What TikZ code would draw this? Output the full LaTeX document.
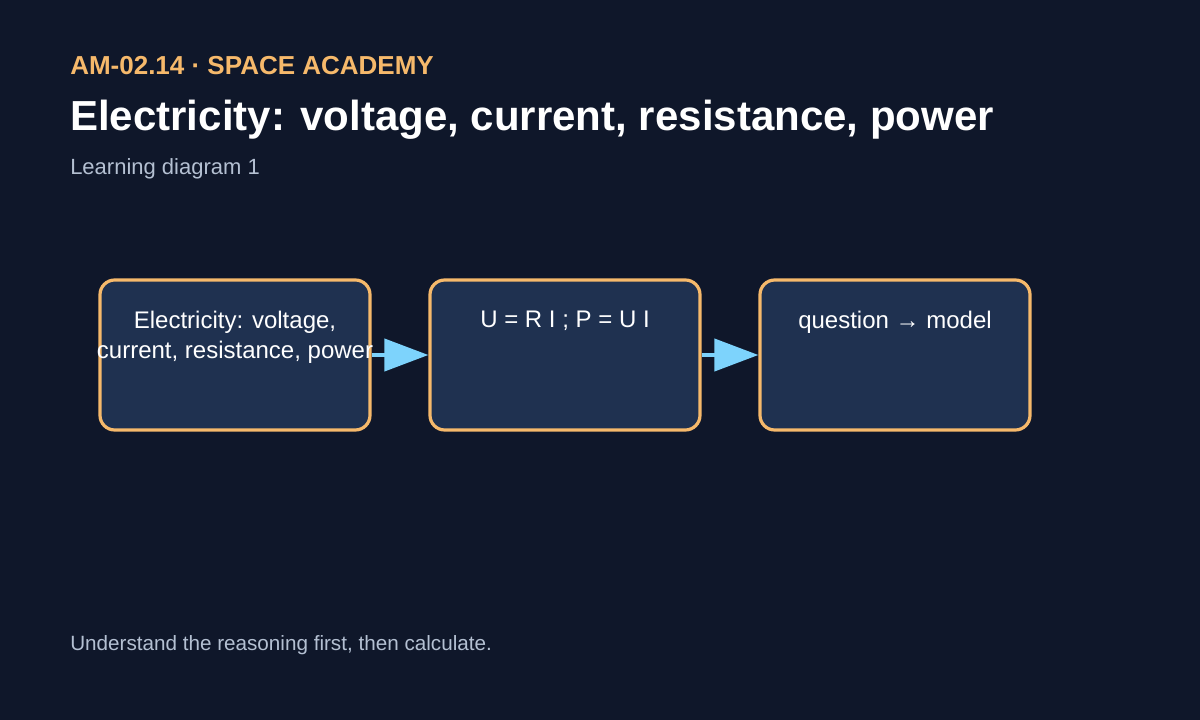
\documentclass[tikz,border=0pt]{standalone}
\usepackage{fontspec}
\setmainfont{Liberation Sans}
\usetikzlibrary{arrows.meta}
\definecolor{bg}{HTML}{0F172A}
\definecolor{org}{HTML}{F6B96B}
\definecolor{boxf}{HTML}{1F3150}
\definecolor{arr}{HTML}{7DD3FC}
\definecolor{sub}{HTML}{B4C0D2}
\begin{document}
\begin{tikzpicture}[x=0.75pt,y=-0.75pt,
  box/.style={draw=org,fill=boxf,line width=2.4pt,rounded corners=11pt,minimum width=202.5pt,minimum height=112.5pt,inner sep=0pt},
  lbl/.style={text=white,font=\fontsize{18}{22.5}\selectfont,align=center,anchor=north},
  con/.style={arr,line width=3pt,-{Triangle[length=33pt,width=24pt]}}]
\fill[bg] (0,0) rectangle (1200,720);
\node[anchor=base west,text=org,font=\bfseries\fontsize{19.5}{24}\selectfont,inner sep=0] (t1) at (70,75) {AM-02.14 · SPACE ACADEMY};
\node[anchor=base west,text=white,font=\bfseries\fontsize{31.5}{36}\selectfont,inner sep=0] (t2) at (70,131) {Electricity: voltage, current, resistance, power};
\node[anchor=base west,text=sub,font=\fontsize{16.5}{20}\selectfont,inner sep=0] (t3) at (70,175) {Learning diagram 1};
\node[anchor=base west,text=sub,font=\fontsize{15.5}{20}\selectfont,inner sep=0] (ft) at (70,650) {Understand the reasoning first, then calculate.};
\node[box] (b1) at (235,355) {};
\node[box] (b2) at (565,355) {};
\node[box] (b3) at (895,355) {};
\node[lbl] at (235,306) {Electricity: voltage,\\current, resistance, power};
\node[lbl] at (565,306) {U = R I ; P = U I};
\node[lbl] at (895,306) {question → model};
\draw[con] (b1.east) -- (b2.west);
\draw[con] (b2.east) -- (b3.west);
\end{tikzpicture}
\end{document}
